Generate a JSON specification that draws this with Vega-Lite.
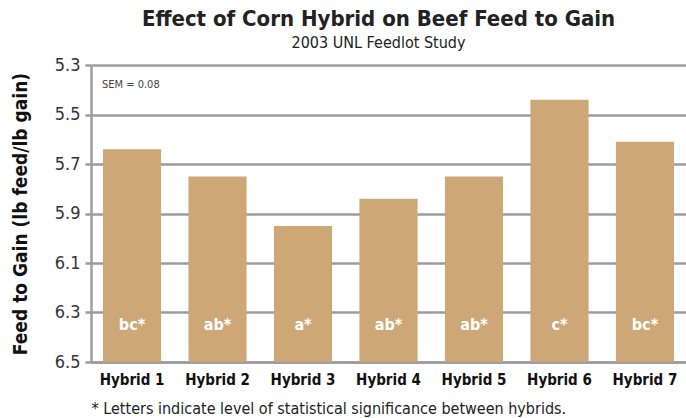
{
  "$schema": "https://vega.github.io/schema/vega-lite/v6.json",
  "width": 595,
  "height": 297,
  "autosize": {"type": "none"},
  "padding": {"left": 91, "top": 65, "right": 0, "bottom": 56},
  "background": "white",
  "title": {
    "text": "Effect of Corn Hybrid on Beef Feed to Gain",
    "subtitle": "2003 UNL Feedlot Study",
    "font": "DejaVu Sans Condensed, Liberation Sans, sans-serif",
    "fontSize": 22,
    "fontWeight": "bold",
    "color": "#222222",
    "subtitleFont": "DejaVu Sans Condensed, Liberation Sans, sans-serif",
    "subtitleFontSize": 16,
    "subtitleColor": "#222222",
    "subtitlePadding": 4,
    "anchor": "middle",
    "offset": 4,
    "dx": -10
  },
  "config": {"view": {"stroke": null}, "font": "DejaVu Sans Condensed, Liberation Sans, sans-serif"},
  "data": {
    "values": [
      {"hybrid": "Hybrid 1", "feed_to_gain": 5.64, "sig": "bc*"},
      {"hybrid": "Hybrid 2", "feed_to_gain": 5.75, "sig": "ab*"},
      {"hybrid": "Hybrid 3", "feed_to_gain": 5.95, "sig": "a*"},
      {"hybrid": "Hybrid 4", "feed_to_gain": 5.84, "sig": "ab*"},
      {"hybrid": "Hybrid 5", "feed_to_gain": 5.75, "sig": "ab*"},
      {"hybrid": "Hybrid 6", "feed_to_gain": 5.44, "sig": "c*"},
      {"hybrid": "Hybrid 7", "feed_to_gain": 5.61, "sig": "bc*"}
    ]
  },
  "layer": [
    {
      "mark": {"type": "bar", "color": "#CDA776"},
      "encoding": {
        "x": {
          "field": "hybrid",
          "type": "nominal",
          "sort": null,
          "scale": {"paddingInner": 0.32, "paddingOuter": 0.14},
          "axis": {
            "title": "* Letters indicate level of statistical significance between hybrids.",
            "titleAnchor": "start",
            "titleAlign": "left",
            "titleFontWeight": "normal",
            "titleFontSize": 16,
            "titleColor": "#222222",
            "titlePadding": 13,
            "labelAngle": 0,
            "labelFontWeight": "bold",
            "labelFontSize": 15,
            "labelColor": "#111111",
            "labelPadding": 10,
            "ticks": false,
            "domainColor": "#9C9CA0",
            "domainWidth": 2.5
          }
        },
        "y": {
          "field": "feed_to_gain",
          "type": "quantitative",
          "scale": {"domain": [5.3, 6.5], "reverse": true, "nice": false, "zero": false},
          "axis": {
            "title": "Feed to Gain (lb feed/lb gain)",
            "values": [5.3, 5.5, 5.7, 5.9, 6.1, 6.3, 6.5],
            "format": ".1f",
            "grid": true,
            "gridColor": "#9C9CA0",
            "gridWidth": 2.5,
            "domainColor": "#9C9CA0",
            "domainWidth": 2.5,
            "tickColor": "#9C9CA0",
            "tickWidth": 2.5,
            "tickSize": 6,
            "labelFontSize": 18,
            "labelColor": "#333333",
            "labelPadding": 5,
            "titleFontSize": 19,
            "titleFontWeight": "bold",
            "titleColor": "#111111",
            "titlePadding": 24
          }
        },
        "y2": {"datum": 6.5}
      }
    },
    {
      "mark": {"type": "text", "color": "white", "fontWeight": "bold", "fontSize": 16, "baseline": "middle"},
      "encoding": {
        "x": {"field": "hybrid", "type": "nominal", "sort": null},
        "y": {"datum": 6.35},
        "text": {"field": "sig"}
      }
    },
    {
      "data": {"values": [{"hybrid": "Hybrid 1", "note": "SEM = 0.08"}]},
      "mark": {"type": "text", "color": "#444444", "fontSize": 11, "align": "left", "baseline": "middle", "dx": -30},
      "encoding": {
        "x": {"field": "hybrid", "type": "nominal", "sort": null},
        "y": {"datum": 5.38},
        "text": {"field": "note"}
      }
    }
  ]
}
